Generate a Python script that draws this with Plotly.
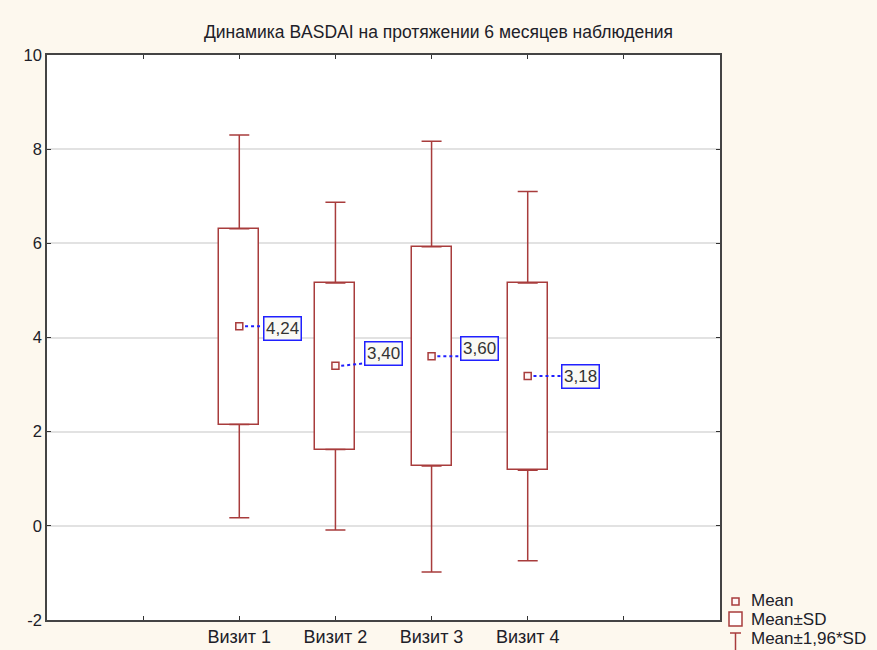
import plotly.graph_objects as go

# ---- data ----
visits = ["Визит 1", "Визит 2", "Визит 3", "Визит 4"]
mean = [4.24, 3.40, 3.60, 3.18]
sd_low = [2.15, 1.62, 1.27, 1.18]
sd_high = [6.31, 5.16, 5.93, 5.16]
ci_low = [0.17, -0.09, -0.98, -0.74]
ci_high = [8.30, 6.87, 8.17, 7.10]

y_ticks = [-2, 0, 2, 4, 6, 8, 10]
legend_labels = ["Mean", "Mean±SD", "Mean±1,96*SD"]
title_text = "Динамика BASDAI на протяжении 6 месяцев наблюдения"

# ---- layout helpers ----
RED = "#A83C3C"
BLUE = "#2020FF"
TXT = "#202028"
FONT = "Liberation Sans, Arial, sans-serif"
pos = [2, 3, 4, 5]
label_dx = [0.247, 0.297, 0.296, 0.346]
label_dy = [-0.05, 0.27, 0.16, 0.0]

L, R, T, B = 47, 720, 55, 620
W, H = 877, 650


def px_x(px):
    return (px - L) / (R - L)


def px_y(py):
    return (B - py) / (B - T)


fig = go.Figure()

# Mean ± SD boxes
fig.add_trace(go.Bar(
    x=pos,
    y=[h - l for h, l in zip(sd_high, sd_low)],
    base=sd_low,
    width=0.416,
    marker=dict(color="white", line=dict(color=RED, width=1.5)),
    showlegend=False, hoverinfo="skip",
))

# upper whiskers
fig.add_trace(go.Scatter(
    x=pos, y=sd_high, mode="markers",
    marker=dict(size=1, color="rgba(0,0,0,0)"),
    error_y=dict(type="data", symmetric=False,
                 array=[c - h for c, h in zip(ci_high, sd_high)],
                 arrayminus=[0] * 4, width=10, thickness=1.5, color=RED),
    showlegend=False, hoverinfo="skip",
))
# lower whiskers
fig.add_trace(go.Scatter(
    x=pos, y=sd_low, mode="markers",
    marker=dict(size=1, color="rgba(0,0,0,0)"),
    error_y=dict(type="data", symmetric=False,
                 array=[0] * 4,
                 arrayminus=[l - c for l, c in zip(sd_low, ci_low)],
                 width=10, thickness=1.5, color=RED),
    showlegend=False, hoverinfo="skip",
))

# mean markers
fig.add_trace(go.Scatter(
    x=pos, y=mean, mode="markers",
    marker=dict(symbol="square", size=7, color="#FFF6F6",
                line=dict(color=RED, width=1.5)),
    showlegend=False, hoverinfo="skip",
))

shapes = []
annotations = []

# mean labels with dotted connectors
for p, m, dx, dy in zip(pos, mean, label_dx, label_dy):
    ly = m + dy
    end_y = min(max(m, ly - 0.22), ly + 0.22)
    shapes.append(dict(type="line", xref="x", yref="y",
                       x0=p + 0.06, y0=m, x1=p + dx, y1=end_y,
                       line=dict(color=BLUE, width=2, dash="dot"), layer="above"))
    annotations.append(dict(
        x=p + dx, y=ly, xref="x", yref="y", xanchor="left", yanchor="middle",
        text=f"{m:.2f}".replace(".", ","), showarrow=False,
        font=dict(family=FONT, size=17, color="#333333"),
        bordercolor=BLUE, borderwidth=1.5, borderpad=1.5, bgcolor="#FAFAF4",
    ))

# custom legend
shapes.append(dict(type="rect", xref="paper", yref="paper",
                   x0=px_x(732), x1=px_x(739), y0=px_y(605), y1=px_y(598),
                   line=dict(color=RED, width=1.5), fillcolor="#FFF6F6"))
shapes.append(dict(type="rect", xref="paper", yref="paper",
                   x0=px_x(729), x1=px_x(742), y0=px_y(626), y1=px_y(612),
                   line=dict(color=RED, width=1.5), fillcolor="white"))
shapes.append(dict(type="line", xref="paper", yref="paper",
                   x0=px_x(735.5), x1=px_x(735.5), y0=px_y(652), y1=px_y(633),
                   line=dict(color=RED, width=1.5)))
shapes.append(dict(type="line", xref="paper", yref="paper",
                   x0=px_x(730), x1=px_x(741), y0=px_y(633), y1=px_y(633),
                   line=dict(color=RED, width=1.5)))
for lbl, cy in zip(legend_labels, [600, 619, 638]):
    annotations.append(dict(
        x=px_x(749), y=px_y(cy), xref="paper", yref="paper",
        xanchor="left", yanchor="middle", text=lbl, showarrow=False,
        font=dict(family=FONT, size=17, color=TXT),
    ))

fig.update_layout(
    width=W, height=H,
    margin=dict(l=L, r=W - R, t=T, b=H - B, autoexpand=False),
    paper_bgcolor="#FDF8EE",
    plot_bgcolor="white",
    font=dict(family=FONT, size=17, color=TXT),
    title=dict(text=title_text, x=0.5, xref="container", xanchor="center",
               y=1 - 32 / H, yref="container", yanchor="middle",
               font=dict(family=FONT, size=17.5, color=TXT)),
    xaxis=dict(range=[0, 7], tickmode="array", tickvals=[1, 2, 3, 4, 5, 6],
               ticktext=[""] + visits + [""], automargin=False,
               showgrid=False, zeroline=False, ticks="inside", ticklen=4,
               tickcolor="#333", showline=True, linecolor="#444", linewidth=1.5,
               mirror="ticks", tickfont=dict(size=18)),
    yaxis=dict(range=[-2, 10], tickmode="array", tickvals=y_ticks,
               ticktext=[str(v) for v in y_ticks], automargin=False,
               showgrid=True, gridcolor="#E2E2E2", gridwidth=2, zeroline=False,
               ticks="inside", ticklen=4, tickcolor="#333",
               showline=True, linecolor="#444", linewidth=1.5, mirror="ticks",
               tickfont=dict(size=16.5)),
    shapes=shapes,
    annotations=annotations,
    showlegend=False,
    bargap=0,
)

fig.write_html("out.html", config={"displayModeBar": False},
               post_script="document.body.style.margin='0';document.body.style.background='#FDF8EE';")
